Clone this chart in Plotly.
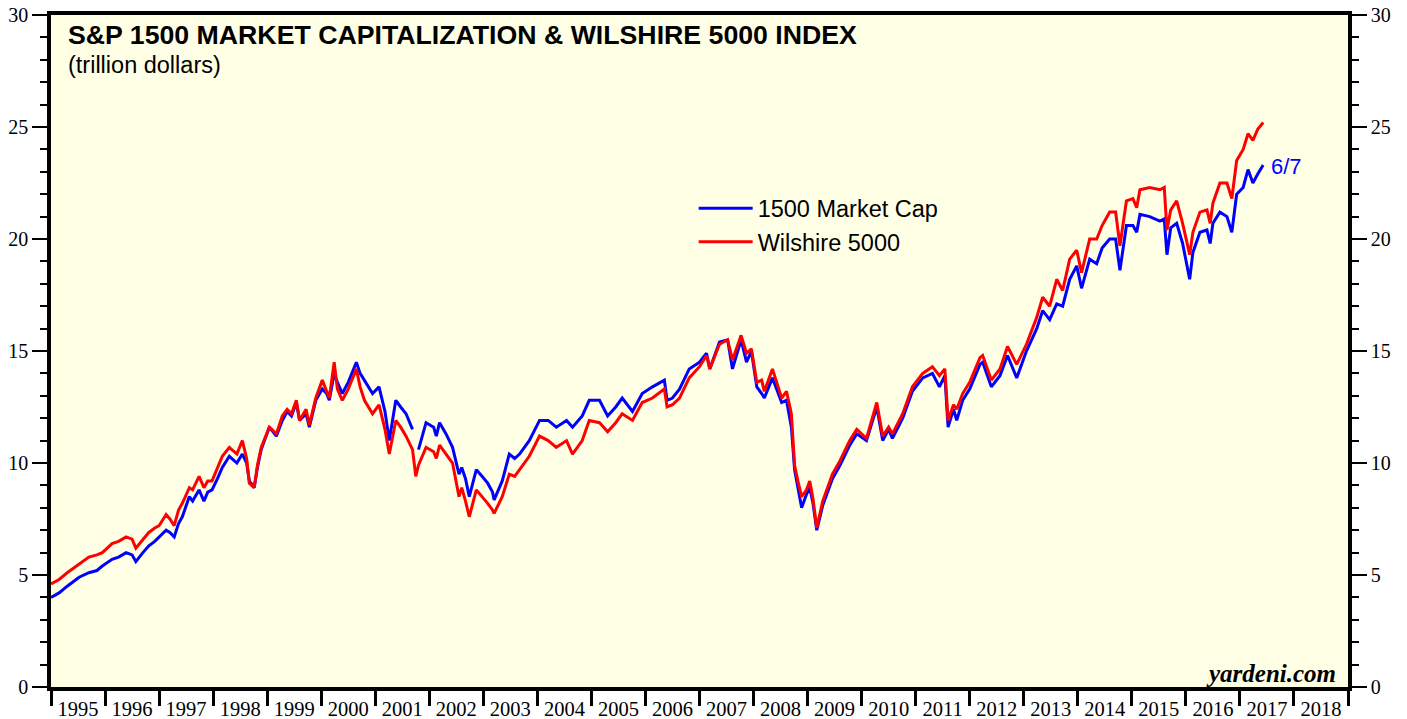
import plotly.graph_objects as go

# decimal-year dates and values (trillion dollars)
dates = [
    1995.00, 1995.15, 1995.30, 1995.52, 1995.70, 1995.85, 1995.95, 1996.13, 1996.25, 1996.39,
    1996.50, 1996.57, 1996.70, 1996.81, 1996.92, 1997.00, 1997.13, 1997.20, 1997.28, 1997.36,
    1997.43, 1997.56, 1997.62, 1997.74, 1997.83, 1997.90, 1997.98, 1998.08, 1998.17, 1998.30,
    1998.44, 1998.54, 1998.62, 1998.67, 1998.76, 1998.82, 1998.89, 1999.04, 1999.17, 1999.28,
    1999.37, 1999.45, 1999.54, 1999.60, 1999.72, 1999.78, 1999.90, 2000.02, 2000.10, 2000.15,
    2000.24, 2000.30, 2000.39, 2000.50, 2000.65, 2000.72, 2000.80, 2000.95, 2001.07, 2001.18,
    2001.26, 2001.38, 2001.47, 2001.57, 2001.69, 2001.72, 2001.75, 2001.80, 2001.94, 2002.08,
    2002.13, 2002.19, 2002.31, 2002.43, 2002.55, 2002.60, 2002.67, 2002.74, 2002.87, 2002.98,
    2003.08, 2003.17, 2003.20, 2003.35, 2003.48, 2003.58, 2003.67, 2003.85, 2004.04, 2004.20,
    2004.35, 2004.54, 2004.65, 2004.83, 2004.96, 2005.15, 2005.30, 2005.45, 2005.57, 2005.76,
    2005.94, 2006.13, 2006.35, 2006.40, 2006.50, 2006.63, 2006.81, 2007.00, 2007.13, 2007.19,
    2007.37, 2007.52, 2007.61, 2007.77, 2007.87, 2007.96, 2008.06, 2008.15, 2008.20, 2008.35,
    2008.52, 2008.61, 2008.70, 2008.76, 2008.82, 2008.89, 2008.98, 2009.04, 2009.10, 2009.17,
    2009.28, 2009.46, 2009.60, 2009.78, 2009.91, 2010.09, 2010.28, 2010.39, 2010.50, 2010.57,
    2010.76, 2010.94, 2011.13, 2011.31, 2011.44, 2011.54, 2011.60, 2011.70, 2011.76, 2011.87,
    2012.00, 2012.19, 2012.24, 2012.40, 2012.56, 2012.70, 2012.87, 2013.05, 2013.24, 2013.35,
    2013.48, 2013.61, 2013.72, 2013.85, 2013.98, 2014.07, 2014.22, 2014.35, 2014.45, 2014.59,
    2014.70, 2014.78, 2014.90, 2015.02, 2015.09, 2015.15, 2015.33, 2015.52, 2015.60, 2015.65,
    2015.72, 2015.83, 2015.94, 2016.07, 2016.13, 2016.26, 2016.39, 2016.45, 2016.50, 2016.63,
    2016.76, 2016.85, 2016.94, 2017.06, 2017.15, 2017.24, 2017.33, 2017.43,
]

market_cap_1500 = [
    4.0, 4.2, 4.5, 4.9, 5.1, 5.2, 5.4, 5.7, 5.8, 6.0,
    5.9, 5.6, 6.0, 6.3, 6.5, 6.7, 7.0, 6.9, 6.7, 7.3,
    7.6, 8.5, 8.3, 8.8, 8.3, 8.7, 8.8, 9.3, 9.8, 10.3,
    10.0, 10.4, 10.0, 9.2, 8.9, 9.8, 10.6, 11.6, 11.2, 11.9,
    12.3, 12.1, 12.7, 11.9, 12.2, 11.6, 12.8, 13.3, 13.1, 12.8,
    14.0, 13.6, 13.1, 13.6, 14.5, 14.0, 13.7, 13.1, 13.4, 12.3,
    11.0, 12.8, 12.5, 12.2, 11.5, None, None, 10.6, 11.8, 11.6,
    11.2, 11.8, 11.3, 10.7, 9.5, 9.8, 9.3, 8.5, 9.7, 9.4,
    9.1, 8.7, 8.35, 9.2, 10.4, 10.2, 10.4, 11.0, 11.9, 11.9,
    11.6, 11.9, 11.6, 12.1, 12.8, 12.8, 12.1, 12.5, 12.9, 12.3,
    13.1, 13.4, 13.7, 12.8, 12.9, 13.3, 14.2, 14.5, 14.9, 14.2,
    15.4, 15.5, 14.2, 15.5, 14.5, 15.0, 13.4, 13.1, 12.9, 13.8,
    12.7, 12.8, 11.6, 9.7, 8.9, 8.0, 8.6, 8.9, 8.2, 7.0,
    8.1, 9.3, 9.9, 10.8, 11.3, 11.0, 12.5, 11.0, 11.5, 11.1,
    12.0, 13.2, 13.8, 14.0, 13.4, 13.9, 11.6, 12.4, 11.9, 12.8,
    13.3, 14.4, 14.5, 13.4, 13.9, 14.8, 13.8, 15.0, 16.0, 16.8,
    16.4, 17.1, 17.0, 18.2, 18.8, 17.8, 19.1, 18.9, 19.6, 20.0,
    20.0, 18.6, 20.6, 20.6, 20.3, 21.1, 21.0, 20.8, 20.9, 19.3,
    20.5, 20.7, 19.8, 18.2, 19.4, 20.3, 20.4, 19.8, 20.7, 21.2,
    21.0, 20.3, 22.0, 22.3, 23.1, 22.5, 22.9, 23.3,
]

wilshire_5000 = [
    4.6, 4.8, 5.1, 5.5, 5.8, 5.9, 6.0, 6.4, 6.5, 6.7,
    6.6, 6.2, 6.6, 6.9, 7.1, 7.2, 7.7, 7.5, 7.2, 7.9,
    8.2, 8.9, 8.8, 9.4, 8.9, 9.2, 9.2, 9.8, 10.3, 10.7,
    10.4, 11.0, 10.2, 9.1, 8.9, 9.9, 10.7, 11.6, 11.3, 12.1,
    12.4, 12.2, 12.8, 11.9, 12.4, 11.7, 12.9, 13.7, 13.2, 12.9,
    14.5, 13.3, 12.8, 13.3, 14.2, 13.4, 12.8, 12.2, 12.6, 11.5,
    10.4, 11.9, 11.6, 11.2, 10.6, 10.0, 9.4, 9.9, 10.7, 10.5,
    10.2, 10.8, 10.4, 10.0, 8.5, 8.9, 8.3, 7.6, 8.8, 8.5,
    8.2, 7.9, 7.75, 8.5, 9.5, 9.4, 9.7, 10.3, 11.2, 11.0,
    10.7, 11.0, 10.4, 11.0, 11.9, 11.8, 11.4, 11.8, 12.2, 11.9,
    12.7, 12.9, 13.3, 12.5, 12.6, 12.9, 13.8, 14.3, 14.8, 14.2,
    15.3, 15.5, 14.6, 15.7, 14.9, 15.1, 13.6, 13.7, 13.2, 14.2,
    12.9, 13.2, 12.2, 9.9, 9.2, 8.5, 8.8, 9.2, 8.4, 7.1,
    8.3, 9.5, 10.1, 11.0, 11.5, 11.1, 12.7, 11.2, 11.6, 11.3,
    12.2, 13.4, 14.0, 14.3, 13.9, 14.2, 11.9, 12.6, 12.4, 13.1,
    13.6, 14.7, 14.8, 13.7, 14.2, 15.2, 14.4, 15.3, 16.5, 17.4,
    17.0, 18.2, 17.7, 19.1, 19.5, 18.5, 20.0, 20.0, 20.6, 21.2,
    21.2, 19.7, 21.7, 21.8, 21.4, 22.2, 22.3, 22.2, 22.3, 20.4,
    21.3, 21.7, 20.7, 19.3, 20.3, 21.2, 21.3, 20.7, 21.6, 22.5,
    22.5, 21.8, 23.5, 24.0, 24.7, 24.4, 24.9, 25.2,
]

years = list(range(1995, 2019))
year_labels = [str(y) for y in years]
y_major = [0, 5, 10, 15, 20, 25, 30]

BLUE = "#0000FF"
RED = "#FF0000"
SANS = "Liberation Sans, Arial, sans-serif"
SERIF = "Liberation Serif, Times New Roman, serif"

fig = go.Figure()
fig.add_trace(go.Scatter(x=dates, y=market_cap_1500, mode="lines", name="1500 Market Cap",
                         line=dict(color=BLUE, width=3), connectgaps=False))
fig.add_trace(go.Scatter(x=dates, y=wilshire_5000, mode="lines", name="Wilshire 5000",
                         line=dict(color=RED, width=3)))
# invisible trace to carry the right-hand y axis
fig.add_trace(go.Scatter(x=[dates[0]], y=[market_cap_1500[0]], yaxis="y2", mode="lines",
                         line=dict(color="rgba(0,0,0,0)"), showlegend=False, hoverinfo="skip"))

yaxis_common = dict(
    range=[0, 30], showgrid=False, zeroline=False, automargin=False,
    showline=True, linewidth=3.5, linecolor="black",
    tickmode="array", tickvals=y_major,
    ticks="outside", ticklen=15, tickwidth=1.5, tickcolor="black",
    tickfont=dict(family=SERIF, size=20, color="black"),
    minor=dict(tickmode="linear", tick0=0, dtick=1, ticks="outside", ticklen=7,
               tickwidth=1.5, tickcolor="black", showgrid=False),
)

fig.update_layout(
    width=1407, height=719,
    margin=dict(l=51, r=59, t=15, b=32, autoexpand=False),
    paper_bgcolor="white",
    plot_bgcolor="#FFFFE6",
    showlegend=True,
    legend=dict(x=0.4955, y=0.745, xanchor="left", yanchor="top",
                bgcolor="rgba(0,0,0,0)", font=dict(family=SANS, size=23.5, color="black"),
                tracegroupgap=0, itemwidth=54),
    xaxis=dict(
        range=[1995, 2019], showgrid=False, zeroline=False, automargin=False,
        showline=True, linewidth=3.5, linecolor="black", mirror=True,
        tickmode="array", tickvals=[y + 0.5 for y in years], ticktext=year_labels,
        ticks="outside", ticklen=1, tickcolor="rgba(0,0,0,0)",
        tickfont=dict(family=SERIF, size=20.5, color="black"),
        minor=dict(tickmode="array", tickvals=list(range(1995, 2020)), ticks="outside",
                   ticklen=15, tickwidth=2.5, tickcolor="black", showgrid=False),
    ),
    yaxis=yaxis_common,
    yaxis2=dict(yaxis_common, overlaying="y", side="right"),
    annotations=[
        dict(text="<b>S&P 1500 MARKET CAPITALIZATION & WILSHIRE 5000 INDEX</b>",
             xref="paper", yref="paper", x=0.0116, y=0.995, xanchor="left", yanchor="top",
             showarrow=False, font=dict(family=SANS, size=26.7, color="black")),
        dict(text="(trillion dollars)",
             xref="paper", yref="paper", x=0.0116, y=0.948, xanchor="left", yanchor="top",
             showarrow=False, font=dict(family=SANS, size=23.5, color="black")),
        dict(text="6/7", x=dates[-1] + 0.1, y=market_cap_1500[-1] - 0.05, xref="x", yref="y",
             xanchor="left", yanchor="middle", showarrow=False,
             font=dict(family=SANS, size=22, color=BLUE)),
        dict(text="<b><i>yardeni.com</i></b>", xref="paper", yref="paper", x=0.992, y=-0.003,
             xanchor="right", yanchor="bottom", showarrow=False,
             font=dict(family=SERIF, size=25, color="black")),
    ],
)

fig.write_html("out.html", config={"displayModeBar": False},
               post_script="document.body.style.margin='0px';")
